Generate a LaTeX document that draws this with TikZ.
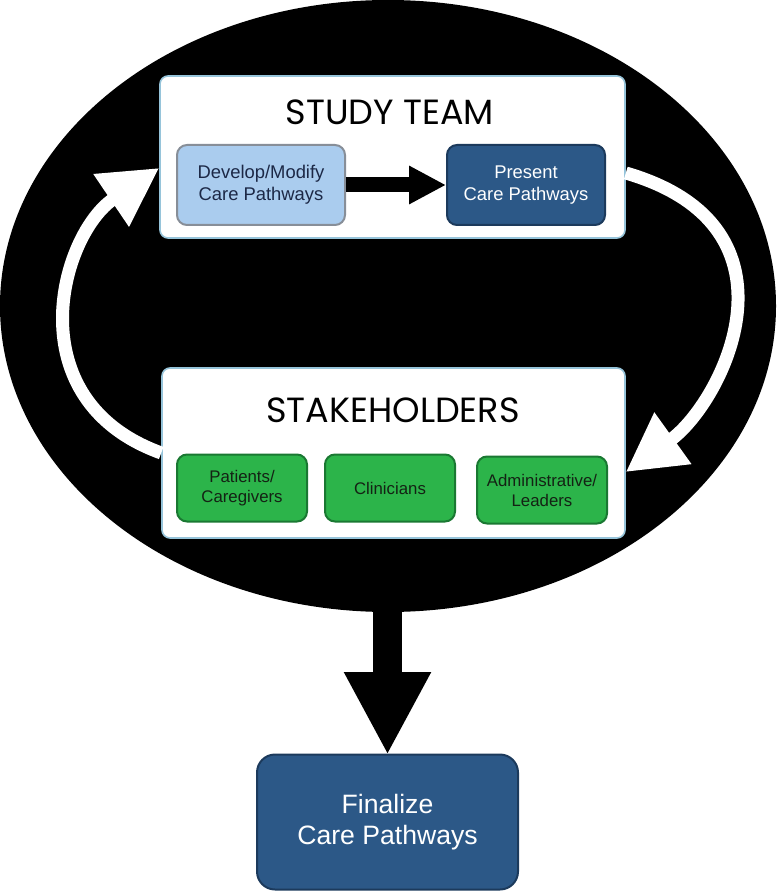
\documentclass[tikz,border=0pt]{standalone}
\usepackage{fontspec}
\setmainfont{Liberation Sans}
\newfontfamily\titlefont{Poppins}
\usepackage{tikz}
\usetikzlibrary{arrows.meta, positioning, shapes.geometric}
\definecolor{framecyan}{RGB}{150,196,218}
\definecolor{paleblue}{RGB}{170,204,238}
\definecolor{palerim}{RGB}{135,142,152}
\definecolor{deepblue}{RGB}{44,88,135}
\definecolor{deeprim}{RGB}{28,58,92}
\definecolor{navytext}{RGB}{28,40,70}
\definecolor{leafgreen}{RGB}{44,180,74}
\definecolor{leafrim}{RGB}{26,120,50}
\definecolor{leaftext}{RGB}{20,34,20}
\tikzset{
  frame/.style={rectangle, draw=framecyan, fill=white, line width=0.8pt,
    rounded corners=4pt},
  title/.style={font=\titlefont\fontsize{17.5}{20}\selectfont, text=black},
  lightblock/.style={rectangle, draw=palerim, fill=paleblue, text=navytext,
    align=center, minimum width=84pt, minimum height=40pt,
    font=\fontsize{9.2}{11}\selectfont, rounded corners=5pt, line width=1pt},
  darkblock/.style={rectangle, draw=deeprim, fill=deepblue, text=white,
    align=center, minimum width=79pt, minimum height=40pt,
    font=\fontsize{9.2}{11}\selectfont, rounded corners=5pt, line width=1pt},
  greenblock/.style={rectangle, draw=leafrim, fill=leafgreen, text=leaftext,
    align=center, minimum width=65pt, minimum height=33.5pt,
    font=\fontsize{8.4}{10}\selectfont, rounded corners=5pt, line width=1pt},
  looparrow/.style={-{Triangle[length=29pt,width=30pt]}, line width=6.5pt, white},
  arrow/.style={-{Triangle[length=18.5pt,width=18pt]}, line width=7.5pt, black},
  bigarrow/.style={-{Triangle[length=41.5pt,width=40.5pt]}, line width=14.5pt, black}
}

\begin{document}
\begin{tikzpicture}[x=0.5pt, y=-0.5pt]
  \useasboundingbox (0,0) rectangle (776,893);

  % black loop behind everything
  \node[ellipse, fill=black, inner sep=0pt, outer sep=0pt,
    minimum width=388pt, minimum height=306pt] (loop) at (388,306) {};
  \draw[bigarrow] (387.5,306) -- (387.5,755);

  % the two panels
  \node[frame, minimum width=232.5pt, minimum height=81pt] (team) at (392.5,157) {};
  \node[frame, minimum width=231.5pt, minimum height=85pt] (stake) at (393.5,453) {};

  % white loop arrows
  \draw[looparrow] (stake.west) .. controls (15,400) and (60,235) .. ([yshift=-5.5pt]team.west);
  \draw[looparrow] ([yshift=-8pt]team.east) .. controls (812,227) and (722,403) .. ([yshift=-9.5pt]stake.east);

  \node[title] (teamtitle) at (390,112) {STUDY TEAM};
  \node[lightblock] (develop) at (261,185) {Develop/Modify\\Care Pathways};
  \node[darkblock] (present) at (526,185) {Present\\Care Pathways};
  \draw[arrow] (develop) -- (present);

  \node[title] (staketitle) at (393,410) {STAKEHOLDERS};
  \node[greenblock] (patients) at (242,488) {Patients/\\Caregivers};
  \node[greenblock] (clinicians) at (390,488) {Clinicians};
  \node[greenblock] (admin) at (542,490) {Administrative/\\Leaders};

  % outcome
  \node[darkblock, minimum width=130.5pt, minimum height=67.5pt, rounded corners=9pt,
    font=\fontsize{13.3}{15.5}\selectfont] (final) at (387.5,822) {Finalize\\Care Pathways};
\end{tikzpicture}
\end{document}
